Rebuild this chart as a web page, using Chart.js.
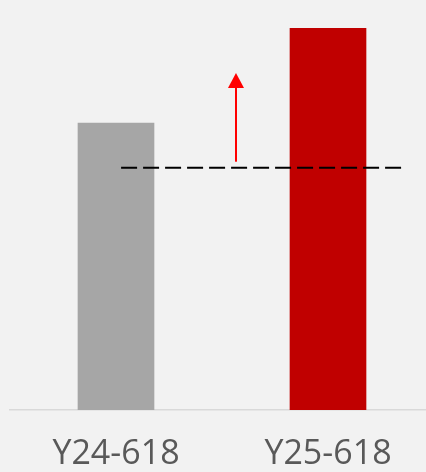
<!DOCTYPE html>
<html>
<head>
    <meta charset="UTF-8" />
    <title>Y24 vs Y25 618</title>
    <script src="https://cdn.jsdelivr.net/npm/chart.js@4.4.0/dist/chart.umd.min.js"></script>
    <style>
        html, body { margin: 0; padding: 0; background: #f2f2f2; overflow: hidden; }
        #wrap { width: 434px; height: 472px; }
    </style>
</head>
<body>
    <div id="wrap"><canvas id="chart" width="434" height="472"></canvas></div>

    <script>
        // values (relative scale, Y25 = 100)
        const labels = ['Y24-618', 'Y25-618'];
        const values = [75.1, 100];
        const barColors = ['#a6a6a6', '#c00000'];

        // dashed reference line and growth arrow (category index / value units)
        const refLine = { value: 63.4, from: 0.024, to: 1.35 };
        const arrow = { x: 0.566, from: 65.0, to: 88.2 };

        const overlay = {
            id: 'overlay',
            afterDatasetsDraw(chart) {
                const ctx = chart.ctx;
                const xs = chart.scales.x, ys = chart.scales.y;
                const step = xs.getPixelForValue(1) - xs.getPixelForValue(0);
                const px = v => xs.getPixelForValue(0) + v * step;

                // dashed line
                ctx.save();
                ctx.strokeStyle = '#000';
                ctx.lineWidth = 2;
                ctx.setLineDash([16, 6]);
                const yy = ys.getPixelForValue(refLine.value);
                ctx.beginPath();
                ctx.moveTo(px(refLine.from), yy);
                ctx.lineTo(px(refLine.to), yy);
                ctx.stroke();
                ctx.restore();

                // arrow
                ctx.save();
                const ax = px(arrow.x);
                const y0 = ys.getPixelForValue(arrow.from);
                const y1 = ys.getPixelForValue(arrow.to);
                ctx.strokeStyle = '#ff0000';
                ctx.fillStyle = '#ff0000';
                ctx.lineWidth = 2;
                ctx.beginPath();
                ctx.moveTo(ax, y0);
                ctx.lineTo(ax, y1 + 14);
                ctx.stroke();
                ctx.beginPath();
                ctx.moveTo(ax, y1);
                ctx.lineTo(ax - 8, y1 + 15);
                ctx.lineTo(ax + 8, y1 + 15);
                ctx.closePath();
                ctx.fill();
                ctx.restore();
            }
        };

        new Chart(document.getElementById('chart'), {
            type: 'bar',
            data: {
                labels: labels,
                datasets: [{
                    data: values,
                    backgroundColor: barColors,
                    barThickness: 76
                }]
            },
            options: {
                responsive: false,
                animation: false,
                layout: { padding: { left: 10, right: 0, top: 28, bottom: 0 } },
                plugins: { legend: { display: false }, tooltip: { enabled: false } },
                scales: {
                    x: {
                        grid: { display: false },
                        border: { display: true, color: '#d9d9d9', width: 1.5 },
                        ticks: {
                            color: '#595959',
                            font: { family: 'Open Sans', size: 34 },
                            padding: 16
                        },
                        afterFit(scale) { scale.height = 62; }
                    },
                    y: {
                        display: false,
                        min: 0,
                        max: 100
                    }
                }
            },
            plugins: [overlay]
        });
    </script>
</body>
</html>
